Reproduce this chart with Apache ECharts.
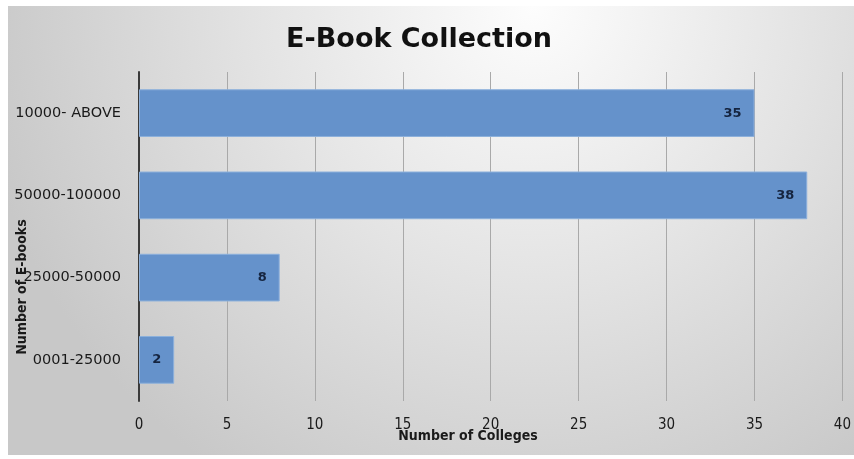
<!DOCTYPE html>
<html>
<head>
<meta charset="utf-8">
<script src="https://cdn.jsdelivr.net/npm/echarts@6/dist/echarts.min.js"></script>
<style>
  html, body { margin: 0; padding: 0; background: #ffffff; }
  #chart { width: 854px; height: 459px; }
</style>
</head>
<body>
<div id="chart"></div>
<script>
// E-book collection sizes (category bands) and how many colleges fall in each
const categories = ['0001-25000', '25000-50000', '50000-100000', '10000- ABOVE'];
const colleges = [2, 8, 38, 35];
const xTicks = [0, 5, 10, 15, 20, 25, 30, 35, 40];

const chart = echarts.init(document.getElementById('chart'), null, { renderer: 'canvas' });

const condensed = "'DejaVu Sans Condensed', 'DejaVu Sans', sans-serif";

chart.setOption({
  animation: false,
  backgroundColor: '#ffffff',
  graphic: [
    {
      type: 'rect',
      z: -10,
      silent: true,
      shape: { x: 8, y: 6, width: 846, height: 449 },
      style: {
        fill: {
          type: 'radial', x: 0.62, y: 0.0, r: 1.25,
          colorStops: [
            { offset: 0, color: '#fdfdfd' },
            { offset: 0.5, color: '#e3e3e3' },
            { offset: 1, color: '#c8c8c8' }
          ]
        }
      }
    },
    {
      type: 'text',
      x: 419,
      y: 40,
      style: {
        text: 'E-Book Collection',
        fontFamily: "'DejaVu Sans', sans-serif",
        fontWeight: 'bold',
        fontSize: 27,
        fill: '#111111',
        align: 'center',
        verticalAlign: 'middle'
      }
    },
    {
      type: 'text',
      x: 468,
      y: 436,
      style: {
        text: 'Number of Colleges',
        fontFamily: condensed,
        fontWeight: 'bold',
        fontSize: 14,
        fill: '#1a1a1a',
        align: 'center',
        verticalAlign: 'middle'
      }
    },
    {
      type: 'text',
      x: 22,
      y: 287,
      rotation: Math.PI / 2,
      style: {
        text: 'Number of E-books',
        fontFamily: condensed,
        fontWeight: 'bold',
        fontSize: 14,
        fill: '#1a1a1a',
        align: 'center',
        verticalAlign: 'middle'
      }
    }
  ],
  grid: { left: 139, right: 10, top: 72, bottom: 58 },
  xAxis: {
    type: 'value',
    min: xTicks[0],
    max: xTicks[xTicks.length - 1],
    interval: 5,
    axisLine: { show: false },
    axisTick: { show: false },
    splitLine: { show: true, lineStyle: { color: '#a9a9a9', width: 1 } },
    axisLabel: {
      margin: 17,
      fontFamily: condensed,
      fontSize: 15,
      color: '#1a1a1a'
    }
  },
  yAxis: {
    type: 'category',
    data: categories,
    axisLine: { show: true, lineStyle: { color: '#3a3a3a', width: 2 } },
    axisTick: { show: false },
    axisLabel: {
      margin: 18,
      fontFamily: "'DejaVu Sans', sans-serif",
      fontSize: 14.5,
      color: '#1a1a1a'
    }
  },
  series: [{
    type: 'bar',
    data: colleges,
    barCategoryGap: '42%',
    itemStyle: { color: '#6592cb', borderColor: '#8cb0dc', borderWidth: 1 },
    label: {
      show: true,
      position: 'insideRight',
      distance: 13,
      fontFamily: "'DejaVu Sans', sans-serif",
      fontWeight: 'bold',
      fontSize: 13,
      color: '#15243f'
    }
  }]
});
</script>
</body>
</html>
